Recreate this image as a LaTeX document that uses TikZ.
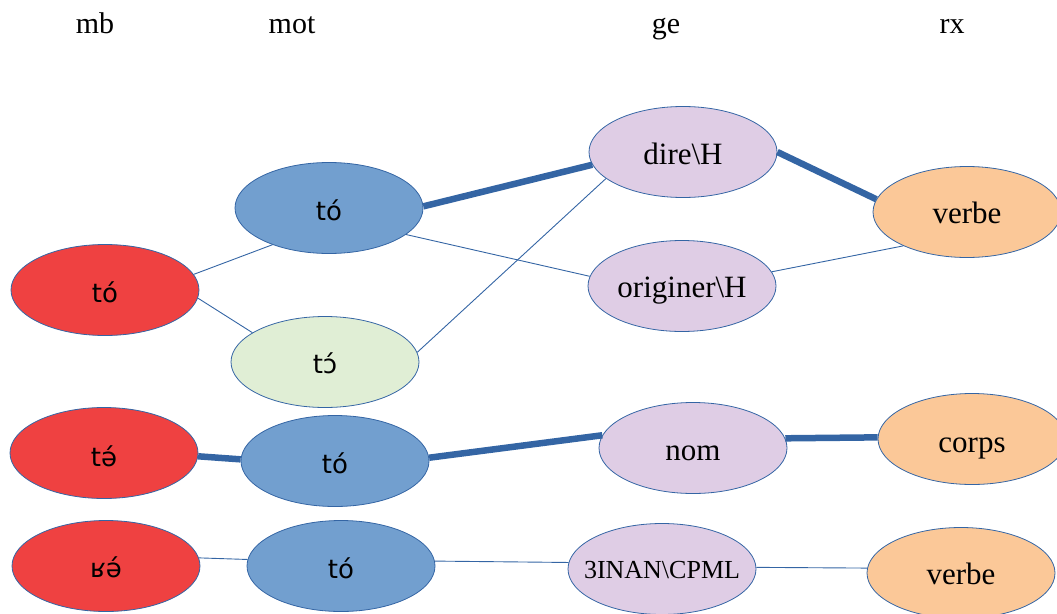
\documentclass[tikz,border=0pt]{standalone}
\usepackage{fontspec}
\setmainfont{Liberation Serif}
\newfontfamily\ipafont{DejaVu Sans}
\usetikzlibrary{shapes.geometric}

\definecolor{cRed}{RGB}{239,65,65}
\definecolor{cBlue}{RGB}{114,159,207}
\definecolor{cGreen}{RGB}{224,238,213}
\definecolor{cLav}{RGB}{223,205,229}
\definecolor{cOrange}{RGB}{251,200,152}
\definecolor{cLine}{RGB}{52,101,164}

% label set on a baseline a little below the centre, taking no room
\newcommand{\lbl}[2][12pt]{\raisebox{-#1}[0pt][0pt]{\makebox[0pt]{#2}}}

\tikzset{
  oval/.style={ellipse, draw=cLine, line width=0.8pt, inner sep=0pt,
    minimum width=188pt, minimum height=91pt},
  mbnode/.style={oval, fill=cRed, font=\ipafont\fontsize{26}{30}\selectfont},
  motnode/.style={oval, fill=cBlue, font=\ipafont\fontsize{26}{30}\selectfont},
  altnode/.style={oval, fill=cGreen, font=\ipafont\fontsize{26}{30}\selectfont},
  genode/.style={oval, fill=cLav, font=\fontsize{31}{36}\selectfont},
  rxnode/.style={oval, fill=cOrange, font=\fontsize{31}{36}\selectfont},
  head/.style={anchor=base, font=\fontsize{30}{36}\selectfont},
  thin link/.style={draw=cLine, line width=0.9pt},
  thick link/.style={draw=cLine, line width=6.5pt},
}

\begin{document}
\begin{tikzpicture}[x=1pt, y=-1pt]
\useasboundingbox (0,0) rectangle (1057,613);

% column headings
\node[head] (hmb)  at (95,33)  {mb};
\node[head] (hmot) at (292,33) {mot};
\node[head] (hge)  at (666,33) {ge};
\node[head] (hrx)  at (952,33) {rx};

% first group
\node[mbnode]  (mb1)  at (105,290) {\lbl{tó}};
\node[motnode] (mot1) at (329,208) {\lbl{tó}};
\node[altnode] (mot2) at (325,362) {\lbl[11pt]{tɔ́}};
\node[genode]  (ge1)  at (683,152) {\lbl{dire\textbackslash H}};
\node[genode]  (ge2)  at (682,286) {\lbl[11pt]{originer\textbackslash H}};
\node[rxnode]  (rx1)  at (967,212) {\lbl[11pt]{verbe}};

% second group
\node[mbnode]  (mb2)  at (104,453) {\lbl[13pt]{tə́}};
\node[motnode] (mot3) at (335,461) {\lbl{tó}};
\node[genode]  (ge3)  at (693,448) {\lbl{nom}};
\node[rxnode]  (rx2)  at (972,439) {\lbl[13pt]{corps}};

% third group
\node[mbnode]  (mb3)  at (106,566) {\lbl[11pt]{ʁə́}};
\node[motnode] (mot4) at (341,566) {\lbl{tó}};
\node[genode, font=\fontsize{26}{30}\selectfont] (ge4) at (662,569) {\lbl[9pt]{3INAN\textbackslash CPML}};
\node[rxnode]  (rx3)  at (961,573) {\lbl[11pt]{verbe}};

% links
\draw[thin link]  (mb1.10)  -- (mot1.213);
\draw[thin link]  (mb1.-5)  -- (mot2.158);
\draw[thick link] (mot1.1)  -- (ge1.188);
\draw[thin link]  (mot1.-19) -- (ge2.174);
\draw[thin link]  (mot2.6)  -- (ge1.199);
\draw[thick link] (ge1.0)   -- (rx1.172);
\draw[thin link]  (ge2.9)   -- (rx1.208);

\draw[thick link] (mb2.-2)  -- (mot3.179);
\draw[thick link] (mot3.2)  -- (ge3.172);
\draw[thick link] (ge3.6)   -- (rx2.179);

\draw[thin link]  (mb3.5)   -- (mot4.176);
\draw[thin link]  (mot4.3)  -- (ge4.176);
\draw[thin link]  (ge4.1)   -- (rx3.177);
\end{tikzpicture}
\end{document}
